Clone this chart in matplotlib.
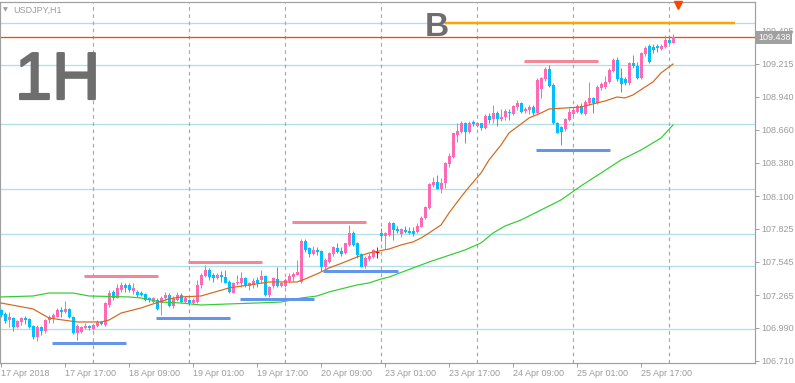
import matplotlib
matplotlib.use("Agg")
import matplotlib.pyplot as plt
import matplotlib.transforms as mtransforms
import matplotlib.patheffects as pe

# ---------------- data ----------------
symbol_title = "USDJPY,H1"
timeframe_text = "1H"
signal_text = "B"

opens = [107.140, 107.106, 107.055, 107.072, 106.997, 107.039, 107.072, 107.064, 107.005, 106.912,
         106.997, 106.963, 107.055, 107.072, 107.081, 107.140, 107.123, 107.149, 107.081, 106.946,
         106.955, 106.988, 107.005, 106.980, 107.005, 107.039, 107.013, 107.182, 107.292, 107.241,
         107.309, 107.351, 107.351, 107.300, 107.292, 107.283, 107.275, 107.241, 107.207, 107.224,
         107.199, 107.241, 107.266, 107.174, 107.224, 107.266, 107.207, 107.224, 107.199, 107.207,
         107.351, 107.427, 107.477, 107.435, 107.410, 107.435, 107.418, 107.376, 107.283, 107.368,
         107.368, 107.410, 107.342, 107.351, 107.393, 107.393, 107.427, 107.266, 107.342, 107.401,
         107.342, 107.342, 107.384, 107.418, 107.435, 107.376, 107.722, 107.663, 107.612, 107.646,
         107.638, 107.503, 107.545, 107.612, 107.663, 107.638, 107.621, 107.688, 107.789, 107.705,
         107.612, 107.511, 107.570, 107.587, 107.629, 107.789, 107.764, 107.772, 107.874, 107.823,
         107.781, 107.815, 107.806, 107.806, 107.798, 107.840, 107.916, 108.000, 108.194, 108.219,
         108.160, 108.211, 108.371, 108.430, 108.616, 108.641, 108.717, 108.641, 108.725, 108.692,
         108.717, 108.675, 108.776, 108.751, 108.801, 108.751, 108.767, 108.810, 108.793, 108.852,
         108.886, 108.818, 108.827, 108.852, 108.801, 109.004, 109.088, 109.172, 109.037, 108.717,
         108.683, 108.666, 108.742, 108.793, 108.810, 108.860, 108.793, 108.886, 108.928, 108.886,
         109.012, 109.020, 109.063, 109.155, 109.248, 109.096, 109.088, 109.054, 109.223, 109.197,
         109.096, 109.299, 109.366, 109.358, 109.366, 109.341, 109.358, 109.417, 109.391]

closes = [107.098, 107.047, 107.081, 106.997, 107.047, 107.072, 107.055, 106.997, 106.912, 106.997,
          106.963, 107.055, 107.081, 107.098, 107.140, 107.123, 107.149, 107.081, 106.946, 107.005,
          106.997, 107.005, 106.988, 107.013, 107.039, 107.022, 107.199, 107.283, 107.241, 107.326,
          107.351, 107.326, 107.309, 107.326, 107.266, 107.266, 107.224, 107.224, 107.241, 107.149,
          107.241, 107.266, 107.174, 107.241, 107.266, 107.207, 107.241, 107.199, 107.224, 107.351,
          107.435, 107.477, 107.418, 107.410, 107.435, 107.418, 107.368, 107.292, 107.368, 107.376,
          107.410, 107.351, 107.368, 107.384, 107.368, 107.427, 107.266, 107.334, 107.410, 107.342,
          107.368, 107.393, 107.427, 107.444, 107.460, 107.722, 107.646, 107.612, 107.646, 107.629,
          107.503, 107.562, 107.621, 107.671, 107.629, 107.612, 107.705, 107.789, 107.688, 107.604,
          107.503, 107.578, 107.595, 107.646, 107.629, 107.764, 107.789, 107.874, 107.815, 107.806,
          107.823, 107.798, 107.789, 107.781, 107.848, 107.916, 108.009, 108.202, 108.219, 108.160,
          108.211, 108.380, 108.439, 108.633, 108.649, 108.717, 108.641, 108.717, 108.708, 108.717,
          108.675, 108.776, 108.742, 108.801, 108.751, 108.767, 108.818, 108.801, 108.860, 108.886,
          108.810, 108.835, 108.852, 108.801, 109.079, 109.096, 109.172, 109.029, 108.717, 108.633,
          108.641, 108.751, 108.810, 108.827, 108.860, 108.801, 108.894, 108.928, 108.886, 109.020,
          109.046, 109.063, 109.164, 109.248, 109.088, 109.046, 109.054, 109.223, 109.197, 109.096,
          109.307, 109.349, 109.231, 109.332, 109.349, 109.366, 109.417, 109.391, 109.442]

highs = [107.149, 107.123, 107.123, 107.081, 107.055, 107.081, 107.089, 107.072, 107.013, 107.013,
         107.005, 107.064, 107.098, 107.114, 107.157, 107.165, 107.216, 107.157, 107.089, 107.022,
         107.005, 107.030, 107.013, 107.022, 107.055, 107.047, 107.207, 107.309, 107.309, 107.359,
         107.376, 107.368, 107.368, 107.368, 107.309, 107.300, 107.283, 107.250, 107.250, 107.241,
         107.258, 107.292, 107.283, 107.258, 107.292, 107.283, 107.258, 107.233, 107.241, 107.393,
         107.452, 107.520, 107.494, 107.452, 107.452, 107.469, 107.477, 107.393, 107.376, 107.435,
         107.460, 107.418, 107.376, 107.410, 107.418, 107.477, 107.435, 107.342, 107.418, 107.503,
         107.376, 107.410, 107.452, 107.460, 107.562, 107.739, 107.739, 107.671, 107.680, 107.671,
         107.646, 107.578, 107.629, 107.680, 107.705, 107.671, 107.705, 107.857, 107.806, 107.714,
         107.621, 107.595, 107.621, 107.654, 107.671, 107.832, 107.798, 107.891, 107.882, 107.848,
         107.832, 107.848, 107.840, 107.840, 107.874, 107.933, 108.017, 108.211, 108.262, 108.278,
         108.253, 108.388, 108.464, 108.633, 108.717, 108.734, 108.725, 108.734, 108.742, 108.725,
         108.717, 108.793, 108.801, 108.869, 108.818, 108.835, 108.835, 108.835, 108.869, 108.911,
         108.894, 108.852, 108.869, 108.869, 109.096, 109.105, 109.189, 109.206, 109.054, 108.725,
         108.692, 108.759, 108.843, 108.852, 108.877, 108.886, 108.911, 109.063, 108.936, 109.037,
         109.063, 109.113, 109.181, 109.265, 109.273, 109.181, 109.105, 109.231, 109.290, 109.231,
         109.316, 109.366, 109.383, 109.383, 109.383, 109.383, 109.459, 109.459, 109.467]

lows = [107.081, 107.030, 106.997, 106.963, 106.988, 107.013, 107.022, 106.988, 106.896, 106.879,
        106.929, 106.946, 107.030, 107.030, 107.081, 107.081, 107.114, 107.072, 106.938, 106.887,
        106.946, 106.980, 106.971, 106.971, 106.997, 107.013, 107.005, 107.165, 107.224, 107.241,
        107.292, 107.292, 107.292, 107.275, 107.250, 107.258, 107.216, 107.207, 107.199, 107.140,
        107.098, 107.224, 107.165, 107.157, 107.216, 107.199, 107.199, 107.182, 107.191, 107.199,
        107.326, 107.418, 107.393, 107.376, 107.401, 107.376, 107.368, 107.283, 107.283, 107.351,
        107.334, 107.334, 107.309, 107.326, 107.334, 107.368, 107.258, 107.250, 107.326, 107.334,
        107.334, 107.334, 107.368, 107.384, 107.435, 107.368, 107.629, 107.587, 107.604, 107.604,
        107.469, 107.460, 107.536, 107.595, 107.621, 107.595, 107.612, 107.680, 107.680, 107.578,
        107.503, 107.494, 107.553, 107.578, 107.578, 107.722, 107.654, 107.764, 107.730, 107.789,
        107.756, 107.789, 107.781, 107.764, 107.789, 107.840, 107.907, 107.992, 108.177, 108.160,
        108.127, 108.169, 108.346, 108.422, 108.557, 108.633, 108.548, 108.633, 108.692, 108.683,
        108.658, 108.666, 108.717, 108.717, 108.692, 108.734, 108.742, 108.742, 108.784, 108.827,
        108.801, 108.801, 108.793, 108.784, 108.784, 108.928, 109.071, 109.020, 108.708, 108.633,
        108.531, 108.649, 108.734, 108.776, 108.801, 108.793, 108.784, 108.869, 108.801, 108.877,
        108.995, 109.004, 109.054, 109.147, 109.071, 108.978, 109.037, 109.037, 109.181, 109.088,
        109.088, 109.282, 109.223, 109.307, 109.316, 109.332, 109.349, 109.391, 109.391]

x_tick_bars = [0, 16, 32, 48, 64, 80, 96, 112, 128, 144, 160]
x_tick_labels = ["17 Apr 2018", "17 Apr 17:00", "18 Apr 09:00", "19 Apr 01:00",
                 "19 Apr 17:00", "20 Apr 09:00", "23 Apr 01:00", "23 Apr 17:00",
                 "24 Apr 09:00", "25 Apr 01:00", "25 Apr 17:00"]
day_separator_bars = [23, 47, 71, 95, 119, 143, 167]
y_ticks = [106.710, 106.990, 107.265, 107.545, 107.825, 108.100,
           108.380, 108.660, 108.940, 109.215, 109.495]

level_lines = [109.560, 109.203, 108.706, 108.163, 107.778, 107.509, 106.977]
current_price = 109.438
signal_level = 109.556
signal_bars = [111, 183.5]

resist_start = [20.75, 46.75, 72.75, 130.75]
resist_end = [39.25, 65.25, 91.25, 149.25]
resist_price = [107.429, 107.547, 107.885, 109.242]
support_start = [12.75, 38.75, 59.75, 80.5, 133.75]
support_end = [31.25, 57.25, 78.25, 99.25, 152.25]
support_price = [106.864, 107.075, 107.230, 107.465, 108.492]

ma_fast_bars = [0, 8, 12, 19, 25, 27, 30, 35, 38, 42, 45, 50, 57, 62, 67, 74, 76, 79, 82, 86,
                89, 92, 97, 100, 103, 105, 107, 110, 112, 115, 117, 120, 122, 125, 127, 130,
                132, 135, 137, 141, 145, 149, 151, 154, 156, 158, 161, 163, 165, 168]
ma_fast_vals = [107.199, 107.149, 107.072, 107.039, 107.039, 107.055, 107.114, 107.157, 107.191,
                107.233, 107.250, 107.258, 107.326, 107.351, 107.376, 107.376, 107.401, 107.444,
                107.494, 107.545, 107.587, 107.621, 107.654, 107.688, 107.714, 107.747, 107.789,
                107.857, 107.958, 108.093, 108.177, 108.295, 108.405, 108.531, 108.633, 108.708,
                108.759, 108.801, 108.835, 108.843, 108.852, 108.886, 108.902, 108.936, 108.928,
                108.953, 109.020, 109.063, 109.139, 109.214]

ma_slow_bars = [0, 8, 12, 18, 22, 32, 35, 40, 45, 50, 57, 64, 70, 75, 79, 82, 86, 89, 92, 95,
                97, 107, 116, 120, 123, 126, 130, 135, 140, 145, 150, 155, 160, 165, 168]
ma_slow_vals = [107.250, 107.258, 107.283, 107.283, 107.258, 107.250, 107.241, 107.207, 107.199,
                107.182, 107.191, 107.199, 107.207, 107.241, 107.258, 107.292, 107.326, 107.351,
                107.368, 107.401, 107.418, 107.545, 107.646, 107.705, 107.789, 107.848, 107.899,
                107.983, 108.068, 108.186, 108.295, 108.405, 108.489, 108.590, 108.700]

# ---------------- style ----------------
FONT = ["Liberation Sans", "DejaVu Sans"]
plt.rcParams["font.family"] = FONT
GRAY = "#9B9B9B"
BULL = "#FF69B4"
BEAR = "#00BFFF"
DOJI = "#FF0000"

W, H = 795, 383
fig = plt.figure(figsize=(W / 100, H / 100), dpi=100)
ax_left, ax_right, ax_top, ax_bottom = 0, 755, 2, 363
ax = fig.add_axes([ax_left / W, (H - ax_bottom) / H,
                   (ax_right - ax_left) / W, (ax_bottom - ax_top) / H])
px = 72 / 100  # points per pixel

ax.set_xlim(-0.25, 188.5)
ax.set_ylim(106.693, 109.737)

# level lines
for lv in level_lines:
    ax.axhline(lv, color="#B0E0E6", lw=1.3 * px, zorder=1)
# day separators
for b in day_separator_bars:
    ax.axvline(b, color="#A8A8A8", lw=1.2 * px, ls=(0, (3, 3)), zorder=1.5)

# current price line
ax.axhline(current_price, color="#FF4500", lw=1.3 * px, zorder=2)

# candles
n = len(closes)
onepx = (109.737 - 106.693) / (ax_bottom - ax_top)
for i in range(n):
    o, c, h, l = opens[i], closes[i], highs[i], lows[i]
    col = BULL if c > o else (BEAR if c < o else DOJI)
    lo_b, hi_b = min(o, c), max(o, c)
    ax.vlines(i, min(l, lo_b), max(h, hi_b), color=col, lw=1.0 * px, zorder=3)
    if c == o:
        ax.hlines(c, i - 0.5, i + 0.5, color=col, lw=1.0 * px, zorder=3)
    else:
        ax.bar(i, max(hi_b - lo_b, onepx), bottom=lo_b, width=0.75, color=col,
               linewidth=0, zorder=3.1)

# moving averages
ax.plot(ma_slow_bars, ma_slow_vals, color="#32CD32", lw=1.2 * px, zorder=4)
ax.plot(ma_fast_bars, ma_fast_vals, color="#D2691E", lw=1.2 * px, zorder=4)

# support / resistance segments
for s, e, p in zip(resist_start, resist_end, resist_price):
    ax.hlines(p, s, e, color="#F4869A", lw=3 * px, zorder=5)
for s, e, p in zip(support_start, support_end, support_price):
    ax.hlines(p, s, e, color="#6495ED", lw=3 * px, zorder=5)

# signal level
ax.hlines(signal_level, signal_bars[0], signal_bars[1], color="#FFA500", lw=2.5 * px, zorder=5)

# texts
ax.text(425 / 755, (ax_bottom - 36) / 361, signal_text, transform=ax.transAxes,
        fontsize=24, color="#6E6E6E", ha="left", va="baseline", fontweight="bold")
ax.text(15 / 755, (ax_bottom - 99) / 361, timeframe_text, transform=ax.transAxes,
        fontsize=48, color="#6E6E6E", ha="left", va="baseline",
        path_effects=[pe.withStroke(linewidth=2.2 * px, foreground="#6E6E6E")])
ax.text(13 / 755, (ax_bottom - 10) / 361, symbol_title, transform=ax.transAxes,
        fontsize=6.5, color=GRAY, ha="left", va="center")
ax.text(3 / 755, (ax_bottom - 10) / 361, "\u25BC", transform=ax.transAxes,
        fontsize=4.5, color=GRAY, ha="left", va="center", family="DejaVu Sans")
ax.plot([678 / 755], [(ax_bottom - 5) / 361], marker="v", color="#FF4500",
        markersize=6, transform=ax.transAxes, clip_on=False, zorder=6, lw=0)

# axes styling
for sp in ax.spines.values():
    sp.set_color("#A0A0A0")
    sp.set_linewidth(1.2 * px)
ax.yaxis.tick_right()
ax.set_yticks(y_ticks)
ax.set_yticklabels([f"{v:.3f}" for v in y_ticks])
ax.set_xticks(x_tick_bars)
ax.set_xticklabels(x_tick_labels, ha="left")
ax.tick_params(axis="y", which="both", direction="out", length=4 * px, width=1 * px,
               color="#A0A0A0", labelcolor=GRAY, labelsize=6.5, pad=2.5 * px,
               left=False, right=True)
ax.tick_params(axis="x", which="both", direction="out", length=4 * px, width=1 * px,
               color="#A0A0A0", labelcolor=GRAY, labelsize=6.5, pad=1.5 * px)

# current price box
tr = mtransforms.blended_transform_factory(ax.transAxes, ax.transData)
ax.text(1.0 + 3 / 755, current_price, f"{current_price:.3f}", transform=tr,
        fontsize=6.5, color="white", ha="left", va="center", zorder=10,
        bbox=dict(boxstyle="square,pad=0.2", fc="#A0A0A0", ec="none"))

fig.savefig("out.png", dpi=100)
